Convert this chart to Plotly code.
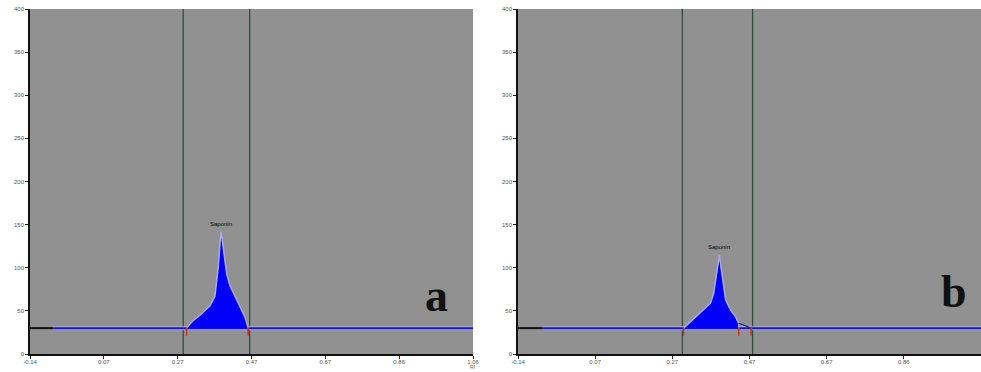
import plotly.graph_objects as go

# ---- data ----
x_tickvals = [-0.14, 0.06, 0.26, 0.46, 0.66, 0.86, 1.06]
x_ticktext = ["-0.14", "0.07", "0.27", "0.47", "0.67", "0.86", "1.06"]
y_tickvals = [0, 50, 100, 150, 200, 250, 300, 350, 400]

baseline_level = 30
baseline_black_end = -0.078

# panel a peak (Rf, intensity)
peak_a_rf = [0.284, 0.300, 0.3205, 0.3475, 0.361, 0.3657, 0.370, 0.3746, 0.3773,
             0.382, 0.388, 0.393, 0.402, 0.415, 0.429, 0.442, 0.451]
peak_a_val = [30, 38, 45, 56, 67, 82, 101, 128, 142,
              128, 109, 92, 79, 67, 55, 43, 30]
lines_a = [0.275, 0.455]
marks_a = [0.284, 0.451]

# panel b peak
peak_b_rf = [0.289, 0.315, 0.341, 0.359, 0.367, 0.373, 0.379, 0.382,
             0.386, 0.392, 0.398, 0.411, 0.424, 0.432, 0.432]
peak_b_val = [30, 41, 51, 59, 70, 90, 109, 115,
              101, 82, 63, 51, 43, 35.5, 30]
tail_b_rf = [0.432, 0.445, 0.463]
tail_b_val = [35.5, 33.6, 30]
lines_b = [0.286, 0.468]
marks_b = [0.289, 0.432, 0.464]

peak_name = "Saponin"
panel_letters = ["a", "b"]
letter_rf = [0.96, 0.99]
letter_y = [68, 72]

# ---- figure ----
fig = go.Figure()
BG = "#919191"
LINE_BLUE = "#1c1ca6"
HALO = "#a8a8f0"
FILL = "#0000fa"
VLINE = "#2f4f3f"

panels = [
    dict(xa="x", ya="y", rf=peak_a_rf, val=peak_a_val, lines=lines_a, marks=marks_a,
         tail=None),
    dict(xa="x2", ya="y2", rf=peak_b_rf, val=peak_b_val, lines=lines_b, marks=marks_b,
         tail=(tail_b_rf, tail_b_val)),
]

for i, p in enumerate(panels):
    xa, ya = p["xa"], p["ya"]
    for lx in p["lines"]:
        fig.add_trace(go.Scatter(x=[lx, lx], y=[0, 400], mode="lines",
                                 line=dict(color=VLINE, width=1.3),
                                 xaxis=xa, yaxis=ya, showlegend=False, hoverinfo="skip"))
    fig.add_trace(go.Scatter(x=[baseline_black_end, 1.06], y=[baseline_level, baseline_level],
                             mode="lines", line=dict(color=HALO, width=4),
                             xaxis=xa, yaxis=ya, showlegend=False, hoverinfo="skip"))
    fig.add_trace(go.Scatter(x=[-0.14, baseline_black_end], y=[baseline_level, baseline_level],
                             mode="lines", line=dict(color="#111111", width=2),
                             xaxis=xa, yaxis=ya, showlegend=False, hoverinfo="skip"))
    fig.add_trace(go.Scatter(x=[baseline_black_end, 1.06], y=[baseline_level, baseline_level],
                             mode="lines", line=dict(color=LINE_BLUE, width=2),
                             xaxis=xa, yaxis=ya, showlegend=False, hoverinfo="skip"))
    fig.add_trace(go.Scatter(x=p["rf"], y=p["val"], mode="lines", fill="toself",
                             fillcolor=FILL, line=dict(color=HALO, width=1.5),
                             xaxis=xa, yaxis=ya, showlegend=False, hoverinfo="skip"))
    if p["tail"]:
        fig.add_trace(go.Scatter(x=p["tail"][0], y=p["tail"][1], mode="lines",
                                 line=dict(color=LINE_BLUE, width=1.2),
                                 xaxis=xa, yaxis=ya, showlegend=False, hoverinfo="skip"))
    fig.add_trace(go.Scatter(x=p["marks"], y=[baseline_level - 4] * len(p["marks"]),
                             mode="markers",
                             marker=dict(symbol="line-ns", size=6, color="#c83020",
                                         line=dict(color="#c83020", width=1.5)),
                             xaxis=xa, yaxis=ya, showlegend=False, hoverinfo="skip"))
    top = max(p["val"])
    top_x = p["rf"][p["val"].index(top)]
    fig.add_annotation(x=top_x, y=top, xref=xa, yref=ya, text=peak_name,
                       showarrow=False, yanchor="bottom", yshift=3,
                       font=dict(size=6, color="#000000", family="Arial"))
    fig.add_annotation(x=letter_rf[i], y=letter_y[i], xref=xa, yref=ya,
                       text="<b>" + panel_letters[i] + "</b>",
                       showarrow=False, xanchor="center", yanchor="middle",
                       font=dict(size=46, color="#111111", family="Liberation Serif"))

fig.add_annotation(x=1.06, y=0, xref="x", yref="paper", text="Rf", showarrow=False,
                   yanchor="bottom", yshift=0, font=dict(size=5, color="#666666", family="Arial"))

axis_common = dict(showgrid=False, zeroline=False, showline=True, linecolor="#111111",
                   linewidth=1.5, ticks="outside", ticklen=3, tickcolor="#222222",
                   automargin=False,
                   tickfont=dict(size=6, color="#555555", family="Arial"))

fig.update_layout(
    width=981, height=372,
    margin=dict(l=0, r=0, t=0, b=0),
    paper_bgcolor="white",
    plot_bgcolor=BG,
    xaxis=dict(domain=[30 / 981, 473 / 981], range=[-0.14, 1.06], tickvals=x_tickvals,
               ticktext=x_ticktext, anchor="y", ticklabelstandoff=-2, **axis_common),
    yaxis=dict(domain=[18 / 372, 363 / 372], range=[0, 400], tickvals=y_tickvals,
               anchor="x", **axis_common),
    xaxis2=dict(domain=[518 / 981, 1.0], range=[-0.14, 1.06], tickvals=x_tickvals,
                ticktext=x_ticktext, anchor="y2", ticklabelstandoff=-2, **axis_common),
    yaxis2=dict(domain=[18 / 372, 363 / 372], range=[0, 400], tickvals=y_tickvals,
                anchor="x2", **axis_common),
)

fig.write_html("out.html", config={"displayModeBar": False},
               post_script="document.body.style.margin='0';document.body.style.overflow='hidden';")
